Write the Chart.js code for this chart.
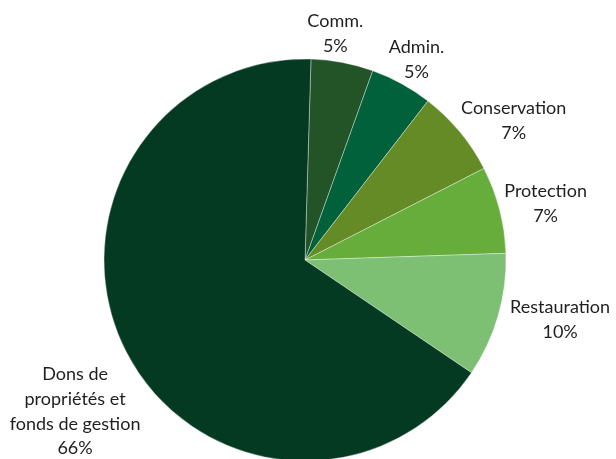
<!DOCTYPE html>
<html><head><meta charset="utf-8">
<script src="https://cdn.jsdelivr.net/npm/chart.js@4"></script>
<style>html,body{margin:0;padding:0;background:#fff;overflow:hidden;width:616px;height:459px}#wrap{width:616px;height:470px;position:relative}</style>
</head><body><div id="wrap"><canvas id="c" width="616" height="470"></canvas></div>
<script>
const categories = ["Comm.", "Admin.", "Conservation", "Protection", "Restauration", "Dons de propriétés et fonds de gestion"];
const labelLines = [["Comm."], ["Admin."], ["Conservation"], ["Protection"], ["Restauration"], ["Dons de", "propriétés et", "fonds de gestion"]];
const values = [5, 5, 7, 7, 10, 66];
const colors = ["#235428", "#00613a", "#648b26", "#66ad3b", "#7dbf73", "#053a22"];
// label offsets from the arc's outer mid-point
const labelOffsets = [[-7, -29], [15, -24], [54, -11], [46, -6], [62, 4], [-51, 60]];

const labelPlugin = {
  id: 'outLabels',
  afterDatasetsDraw(chart) {
    const ctx = chart.ctx;
    const meta = chart.getDatasetMeta(0);
    const total = values.reduce((a, b) => a + b, 0);
    ctx.save();
    ctx.font = '18px Lato';
    ctx.fillStyle = '#1f1f1f';
    ctx.textAlign = 'center';
    ctx.textBaseline = 'middle';
    const lh = 24.6;
    meta.data.forEach((arc, i) => {
      const mid = (arc.startAngle + arc.endAngle) / 2;
      const px = arc.x + Math.cos(mid) * arc.outerRadius + labelOffsets[i][0];
      const py = arc.y + Math.sin(mid) * arc.outerRadius + labelOffsets[i][1];
      const lines = labelLines[i].concat([Math.round(values[i] / total * 100) + '%']);
      const y0 = py - (lines.length - 1) * lh / 2;
      lines.forEach((t, j) => ctx.fillText(t, px, y0 + j * lh));
    });
    ctx.restore();
  }
};

new Chart(document.getElementById('c'), {
  type: 'pie',
  data: {
    labels: categories,
    datasets: [{
      data: values,
      backgroundColor: colors,
      borderColor: 'rgba(255,255,255,0.45)',
      borderWidth: 0.8,
      hoverOffset: 0
    }]
  },
  options: {
    responsive: false,
    animation: false,
    rotation: 1.7,
    layout: { padding: { top: 58.6, bottom: 8.6, left: 103.6, right: 109.6 } },
    plugins: { legend: { display: false }, tooltip: { enabled: false } }
  },
  plugins: [labelPlugin]
});
</script></body></html>
